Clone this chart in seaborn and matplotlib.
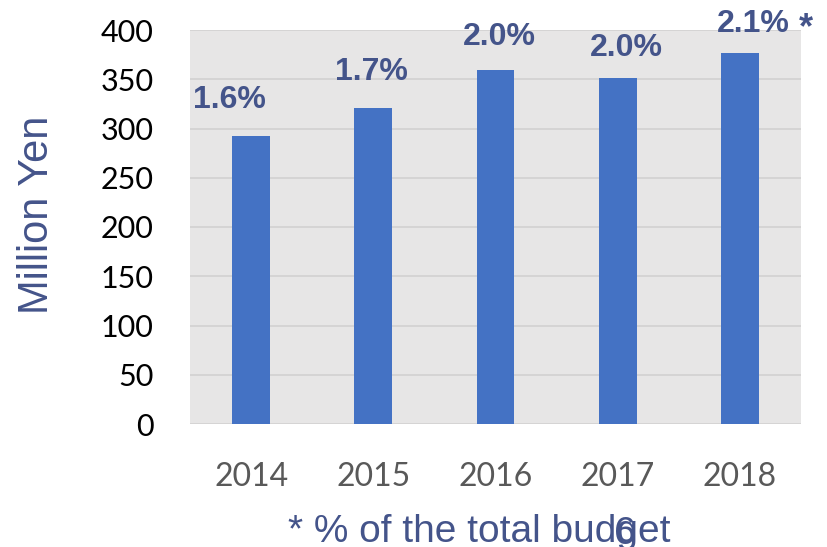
import matplotlib
matplotlib.use("Agg")
import matplotlib.pyplot as plt
import pandas as pd
import seaborn as sns

years = ["2014", "2015", "2016", "2017", "2018"]
budget = [292, 321, 359, 351, 377]
share_labels = ["1.6%", "1.7%", "2.0%", "2.0%", "2.1%"]

ylabel = "Million Yen"
footnote = "* % of the total budget"
page_no = "6"

sns.set_style("white")
plt.rcParams["font.family"] = ["Liberation Sans", "DejaVu Sans"]

df = pd.DataFrame({"year": years, "budget": budget})

fig = plt.figure(figsize=(8.28, 5.47), dpi=100)
ax = fig.add_axes([190 / 828, 1 - 424 / 547, 611 / 828, 394 / 547])
ax.set_facecolor("#E7E6E6")

sns.barplot(data=df, x="year", y="budget", color="#4472C4", width=0.31,
            saturation=1, linewidth=0, ax=ax, zorder=3)

ax.set_ylim(0, 400)
ax.set_xlim(-0.5, 4.5)
ax.set_yticks(range(0, 401, 50))
ax.yaxis.grid(True, color="#D4D3D3", linewidth=1.3, zorder=0)
ax.set_axisbelow(True)
for s in ax.spines.values():
    s.set_visible(False)

ax.set_xlabel("")
ax.set_ylabel("")
ax.tick_params(axis="both", length=0)
ax.tick_params(axis="y", pad=26, labelsize=22, labelcolor="black")
ax.tick_params(axis="x", pad=27, labelsize=23, labelcolor="#595959")
for t in ax.get_yticklabels() + ax.get_xticklabels():
    t.set_family(["Lato", "DejaVu Sans"])

label_col = "#44548A"
dx = [-22, -2, 4, 9, 13]
dy = [36, 36, 33, 30, 29]
for i, (v, lab) in enumerate(zip(budget, share_labels)):
    ax.annotate(lab, xy=(i, v), xytext=(dx[i] * 0.72, dy[i] * 0.72),
                textcoords="offset points", ha="center", va="center",
                fontsize=23, fontweight="bold", color=label_col)
ax.annotate("*", xy=(4, budget[4]), xytext=(66 * 0.72, 24 * 0.72),
            textcoords="offset points", ha="center", va="center",
            fontsize=26, fontweight="bold", color=label_col,
            annotation_clip=False)

fig.text(37 / 828, 1 - 215 / 547, ylabel, rotation=90, ha="center",
         va="center", fontsize=30, color=label_col)
# footnote and page number sit on the bottom edge, as in the slide
fig.text(479 / 828, 1 - 542 / 547, footnote, ha="center", va="baseline",
         fontsize=28, color=label_col)
fig.text(625 / 828, 1 - 544 / 547, page_no, ha="center", va="baseline",
         fontsize=28, color=label_col)

fig.savefig("out.png", dpi=100)
